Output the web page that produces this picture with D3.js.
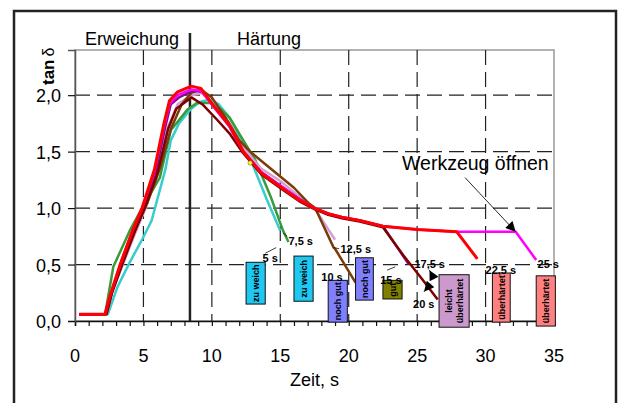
<!DOCTYPE html>
<html>
<head>
<meta charset="utf-8">
<script src="https://cdn.jsdelivr.net/npm/d3@7/dist/d3.min.js"></script>
<style>
  body { margin: 0; background: #fff; }
  svg text { font-family: Arial, "Liberation Sans", sans-serif; }
</style>
</head>
<body>
<div id="chart"></div>
<script>
// data (time in s, tan delta)
const xTicks = [0, 5, 10, 15, 20, 25, 30, 35];
const yTicks = [0, 0.5, 1.0, 1.5, 2.0];

const cyanT = [0.3, 2.4, 3.1, 4.0, 4.9, 5.6, 6.6, 7.0, 7.6, 8.4, 9.1, 9.8, 10.5, 11.3, 12.2, 13.1, 14.0, 15.0];
const cyanV = [0.06, 0.06, 0.3, 0.52, 0.72, 0.89, 1.34, 1.6, 1.75, 1.87, 1.94, 1.96, 1.92, 1.8, 1.6, 1.35, 1.08, 0.8];

const greenT = [0.3, 2.2, 2.8, 4.0, 4.9, 6.2, 7.0, 8.2, 8.9, 9.9, 10.6, 11.3, 12.2, 13.2, 14.3, 15.2, 15.6];
const greenV = [0.06, 0.06, 0.48, 0.8, 1.0, 1.27, 1.69, 1.87, 1.93, 1.93, 1.88, 1.8, 1.62, 1.42, 1.1, 0.8, 0.7];

const plumT = [0.3, 2.3, 2.7, 3.5, 4.4, 5.1, 6.0, 6.8, 7.5, 8.5, 9.3, 10.2, 11.3, 12.4, 13.6, 15.0, 16.4, 17.5, 19.0];
const plumV = [0.06, 0.06, 0.25, 0.5, 0.78, 0.98, 1.3, 1.72, 1.92, 2.0, 2.02, 1.92, 1.75, 1.52, 1.35, 1.24, 1.1, 1.0, 0.72];

const brownT = [0.3, 2.3, 2.8, 3.6, 4.5, 5.3, 6.2, 7.0, 7.8, 8.5, 9.2, 10.0, 11.0, 12.0, 12.8, 14.0, 15.0, 16.0, 17.1, 17.55, 18.9, 19.0, 20.5];
const brownV = [0.06, 0.06, 0.3, 0.55, 0.85, 1.05, 1.35, 1.7, 1.92, 2.02, 2.05, 1.98, 1.8, 1.6, 1.5, 1.38, 1.28, 1.18, 1.04, 1.0, 0.65, 0.64, 0.34];

const purpleT = [0.3, 2.2, 2.6, 3.4, 4.3, 5.0, 5.9, 6.6, 7.0, 7.6, 8.6, 9.3, 10.2, 11.3, 12.3, 13.6, 15.1, 16.4, 17.5, 18.5, 19.5, 20.8, 22.5, 24.4];
const purpleV = [0.06, 0.06, 0.22, 0.5, 0.8, 1.0, 1.32, 1.72, 1.92, 1.98, 2.04, 2.03, 1.9, 1.72, 1.5, 1.32, 1.19, 1.08, 1.0, 0.95, 0.92, 0.89, 0.84, 0.5];

const maroonT = [0.3, 2.3, 2.7, 3.5, 4.4, 5.1, 6.0, 6.8, 7.4, 8.5, 9.3, 10.4, 11.3, 12.2, 13.6, 15.1, 16.4, 17.5, 18.5, 19.5, 20.8, 22.5, 24.0, 25.3, 26.5];
const maroonV = [0.06, 0.06, 0.25, 0.52, 0.8, 1.0, 1.3, 1.7, 1.88, 1.98, 1.92, 1.78, 1.66, 1.5, 1.3, 1.17, 1.06, 0.99, 0.94, 0.91, 0.88, 0.83, 0.58, 0.38, 0.19];

const magentaT = [0.3, 2.2, 2.5, 3.3, 4.2, 4.9, 5.8, 6.5, 6.9, 7.5, 8.5, 9.2, 10.1, 11.3, 12.3, 13.6, 15.1, 16.4, 17.5, 18.5, 19.5, 20.8, 22.5, 25.0, 27.9, 30.0, 32.2, 33.7];
const magentaV = [0.06, 0.06, 0.2, 0.5, 0.8, 1.0, 1.32, 1.72, 1.92, 2.0, 2.05, 2.04, 1.9, 1.72, 1.5, 1.32, 1.19, 1.08, 1.0, 0.95, 0.92, 0.89, 0.84, 0.81, 0.79, 0.79, 0.79, 0.54];

const redT = [0.3, 2.2, 2.5, 3.3, 4.2, 4.9, 5.8, 6.5, 6.9, 7.5, 8.5, 9.2, 10.1, 11.3, 12.3, 13.6, 15.1, 16.4, 17.5, 18.5, 19.5, 20.8, 22.5, 25.0, 27.9, 29.4];
const redV = [0.06, 0.06, 0.2, 0.5, 0.8, 1.0, 1.34, 1.75, 1.95, 2.03, 2.08, 2.06, 1.91, 1.73, 1.5, 1.31, 1.18, 1.07, 1.0, 0.95, 0.92, 0.89, 0.84, 0.81, 0.79, 0.55];

const seriesNames = ["5 s", "7,5 s", "12,5 s", "10 s", "15 s", "20 s", "25 s", "22,5 s"];
const seriesColors = ["#38cccc", "#3a9a3a", "#d4a0d4", "#7a3c08", "#80108a", "#7e0000", "#ff00ff", "#ff0000"];
const seriesT = [cyanT, greenT, plumT, brownT, purpleT, maroonT, magentaT, redT];
const seriesV = [cyanV, greenV, plumV, brownV, purpleV, maroonV, magentaV, redV];

// labelled boxes: [t0, t1, vTop, vBottom]
const boxLabels = [["zu weich"], ["zu weich"], ["noch gut"], ["noch gut"], ["gut"], ["leicht", "überhärtet"], ["überhärtet"], ["überhärtet"]];
const boxColors = ["#1ec8f0", "#1ec8f0", "#8080ff", "#8080ff", "#808000", "#cc99cc", "#ff8080", "#ff8080"];
const boxT0 = [12.5, 16.0, 18.5, 20.5, 22.5, 26.6, 30.5, 33.7];
const boxT1 = [13.9, 17.4, 19.9, 21.8, 23.9, 28.8, 31.8, 35.1];
const boxVTop = [0.52, 0.575, 0.36, 0.56, 0.36, 0.41, 0.425, 0.40];
const boxVBot = [0.15, 0.175, -0.01, 0.185, 0.195, -0.055, -0.01, -0.045];

// time labels near curve ends: text, t, v (baseline left)
const endLabels = ["5 s", "7,5 s", "10 s", "12,5 s", "15 s", "17,5 s", "20 s", "22,5 s", "25 s"];
const endT = [13.7, 15.6, 18.0, 19.4, 22.3, 24.8, 24.7, 30.0, 33.8];
const endV = [0.52, 0.67, 0.35, 0.6, 0.33, 0.47, 0.115, 0.42, 0.47];

const W = 620, H = 403;
const margin = { left: 75, top: 50, right: 66, bottom: 82 };

const svg = d3.select("#chart").append("svg")
  .attr("width", W)
  .attr("height", H);

const x = d3.scaleLinear().domain([0, 35]).range([margin.left, W - margin.right]);
const y = d3.scaleLinear().domain([0, 2.4]).range([H - margin.bottom, margin.top]);

// outer frame
svg.append("rect")
  .attr("x", 14).attr("y", 11)
  .attr("width", 602).attr("height", 400)
  .attr("fill", "none").attr("stroke", "#222").attr("stroke-width", 2.5);

// plot border (grey)
svg.append("rect")
  .attr("x", x(0)).attr("y", y(2.4))
  .attr("width", x(35) - x(0)).attr("height", y(0) - y(2.4))
  .attr("fill", "none").attr("stroke", "#999").attr("stroke-width", 1.5);

// dashed grid
svg.append("g").selectAll("line")
  .data(yTicks.filter(d => d > 0))
  .join("line")
  .attr("x1", x(0)).attr("x2", x(35))
  .attr("y1", d => y(d)).attr("y2", d => y(d))
  .attr("stroke", "#222").attr("stroke-width", 1.2)
  .attr("stroke-dasharray", "15,7");

svg.append("g").selectAll("line")
  .data(xTicks.filter(d => d > 0 && d < 35))
  .join("line")
  .attr("x1", d => x(d)).attr("x2", d => x(d))
  .attr("y1", y(2.4)).attr("y2", y(0))
  .attr("stroke", "#222").attr("stroke-width", 1.2)
  .attr("stroke-dasharray", "15,7");

// x axis
const xAxis = svg.append("g")
  .attr("transform", `translate(0,${y(0)})`)
  .call(d3.axisBottom(x).tickValues(d3.range(0, 36, 1)).tickSize(5).tickFormat(""));
xAxis.select(".domain").attr("stroke", "#111").attr("stroke-width", 1.5);
xAxis.selectAll(".tick line").attr("stroke", "#111").attr("stroke-width", 1.2);

svg.append("g").selectAll("text")
  .data(xTicks)
  .join("text")
  .attr("x", d => x(d)).attr("y", 362)
  .attr("text-anchor", "middle")
  .attr("font-size", 18)
  .text(d => d);

// y axis
const yAxis = svg.append("g")
  .attr("transform", `translate(${x(0)},0)`)
  .call(d3.axisLeft(y).tickValues(yTicks).tickSize(7).tickFormat(""));
yAxis.select(".domain").attr("stroke", "#555").attr("stroke-width", 1.5);
yAxis.selectAll(".tick line").attr("stroke", "#111").attr("stroke-width", 1.2);

svg.append("g").selectAll("text")
  .data(yTicks)
  .join("text")
  .attr("x", 61).attr("y", d => y(d) + 7)
  .attr("text-anchor", "end")
  .attr("font-size", 18)
  .text(d => d3.format(".1f")(d).replace(".", ","));

// axis titles
svg.append("text")
  .attr("x", x(17.5)).attr("y", 386)
  .attr("text-anchor", "middle").attr("font-size", 18)
  .text("Zeit, s");

const yt = svg.append("text")
  .attr("transform", "translate(54,85) rotate(-90)")
  .attr("font-size", 17);
yt.append("tspan").attr("font-weight", "bold").text("tan");
yt.append("tspan").attr("dx", 3).attr("font-size", 16).text("δ");

// phase split
svg.append("line")
  .attr("x1", x(8.4)).attr("x2", x(8.4))
  .attr("y1", 33).attr("y2", y(0))
  .attr("stroke", "#222").attr("stroke-width", 2.5);
svg.append("text").attr("x", 85).attr("y", 45).attr("font-size", 18).text("Erweichung");
svg.append("text").attr("x", 237).attr("y", 45).attr("font-size", 18).text("Härtung");

// curves
const line = d3.line().x(d => x(d[0])).y(d => y(d[1]));
seriesT.forEach((ts, i) => {
  const pts = ts.map((t, j) => [t, seriesV[i][j]]);
  svg.append("path")
    .datum(pts)
    .attr("d", line)
    .attr("fill", "none")
    .attr("stroke", seriesColors[i])
    .attr("stroke-width", i === 7 ? 3 : 2.5)
    .attr("stroke-linejoin", "round")
    .attr("class", "series")
    .attr("data-name", seriesNames[i]);
});

// yellow marker
svg.append("circle")
  .attr("cx", x(12.8)).attr("cy", y(1.4)).attr("r", 2.2)
  .attr("fill", "#ffff00").attr("stroke", "#666").attr("stroke-width", 0.6);

// boxes
boxLabels.forEach((lbl, i) => {
  const x0 = x(boxT0[i]), x1 = x(boxT1[i]);
  const y0 = y(boxVTop[i]), y1 = y(boxVBot[i]);
  svg.append("rect")
    .attr("x", x0).attr("y", y0)
    .attr("width", x1 - x0).attr("height", y1 - y0)
    .attr("fill", boxColors[i]).attr("stroke", "#111").attr("stroke-width", 1);
  const cx = (x0 + x1) / 2, cy = (y0 + y1) / 2;
  const t = svg.append("text")
    .attr("transform", `translate(${cx},${cy}) rotate(-90)`)
    .attr("text-anchor", "middle")
    .attr("font-size", 9).attr("font-weight", "bold");
  lbl.forEach((s, k) => {
    t.append("tspan")
      .attr("x", 0)
      .attr("y", 3.5 + (k - (lbl.length - 1) / 2) * 11)
      .text(s);
  });
});

// time labels
svg.append("g").selectAll("text")
  .data(endLabels)
  .join("text")
  .attr("x", (d, i) => x(endT[i])).attr("y", (d, i) => y(endV[i]))
  .attr("font-size", 11).attr("font-weight", "bold")
  .text(d => d);

// leader lines
const leaders = [[13.9, 0.6, 14.7, 0.65], [15.5, 0.75, 15.2, 0.78], [18.9, 0.65, 19.3, 0.64], [22.8, 0.45, 23.4, 0.48]];
svg.append("g").selectAll("line")
  .data(leaders)
  .join("line")
  .attr("x1", d => x(d[0])).attr("y1", d => y(d[1]))
  .attr("x2", d => x(d[2])).attr("y2", d => y(d[3]))
  .attr("stroke", "#111").attr("stroke-width", 0.8);

// arrowheads
const defs = svg.append("defs");
defs.append("marker")
  .attr("id", "arr").attr("viewBox", "0 0 10 10")
  .attr("refX", 10).attr("refY", 5)
  .attr("markerWidth", 12).attr("markerHeight", 10)
  .attr("markerUnits", "userSpaceOnUse")
  .attr("orient", "auto")
  .append("path").attr("d", "M0,0 L10,5 L0,10 Z").attr("fill", "#000");

const arrows = [[28.5, 1.27, 32.2, 0.79], [26.2, 0.38, 25.9, 0.45], [26.0, 0.33, 25.5, 0.26]];
svg.append("g").selectAll("line")
  .data(arrows)
  .join("line")
  .attr("x1", d => x(d[0])).attr("y1", d => y(d[1]))
  .attr("x2", d => x(d[2])).attr("y2", d => y(d[3]))
  .attr("stroke", "#111").attr("stroke-width", 0.9)
  .attr("marker-end", "url(#arr)");

svg.append("text")
  .attr("x", 402).attr("y", 170)
  .attr("font-size", 19.5)
  .text("Werkzeug öffnen");
</script>
</body>
</html>
